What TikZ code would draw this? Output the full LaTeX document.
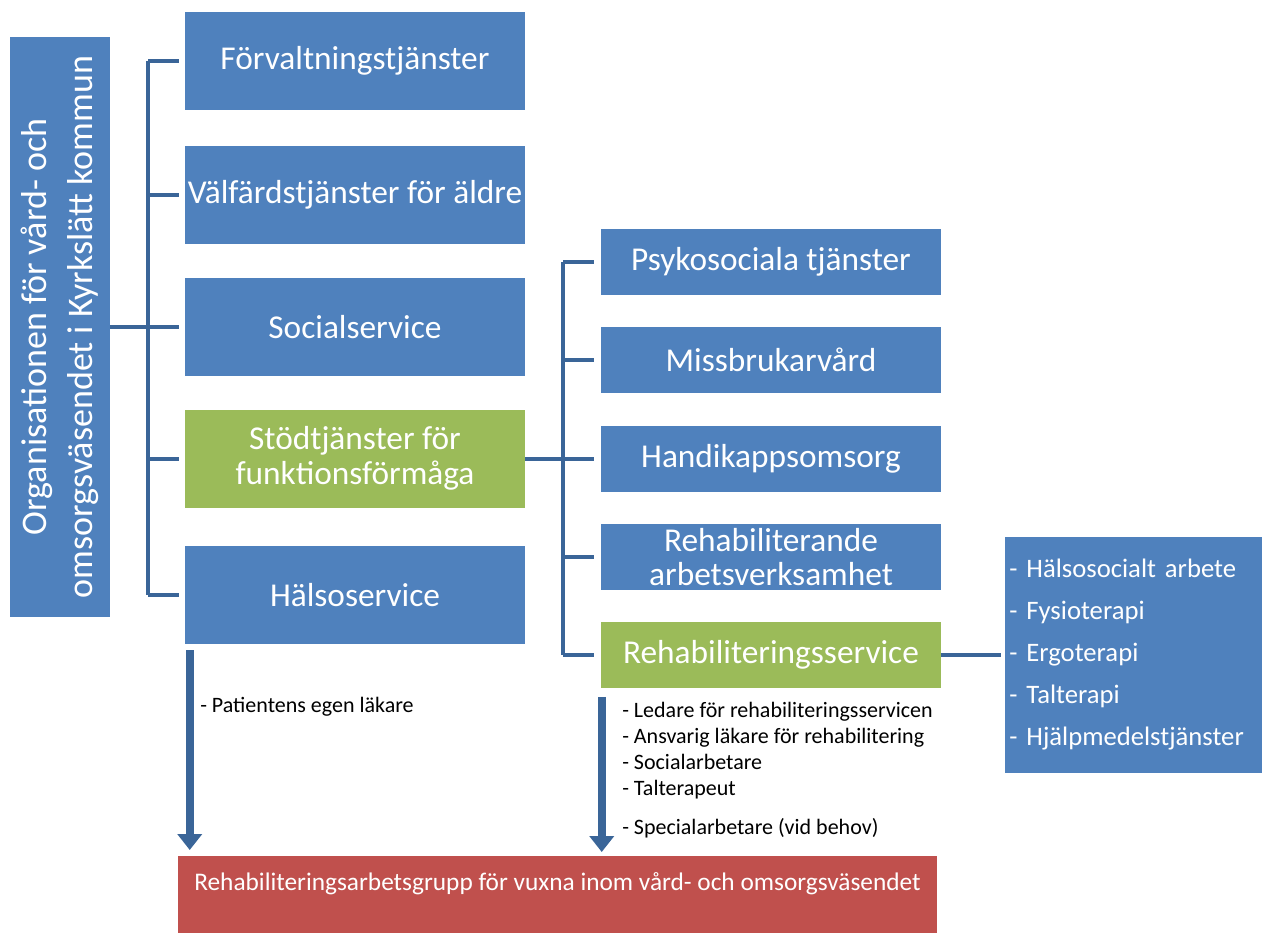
\documentclass[tikz,border=0pt]{standalone}
\usepackage{fontspec}
\setmainfont{Carlito}
\usetikzlibrary{arrows.meta,positioning,calc}
\definecolor{unitblue}{HTML}{4F81BD}
\definecolor{unitgreen}{HTML}{9BBB59}
\definecolor{unitred}{HTML}{C0504D}
\definecolor{linkblue}{HTML}{3A6598}

\begin{document}
\begin{tikzpicture}[x=0.75pt, y=-0.75pt,
    unit/.style={fill=unitblue, text=white, minimum width=255pt, minimum height=73.5pt, align=center, inner sep=1pt, font=\fontsize{25}{26}\selectfont},
    sub/.style={unit, minimum height=49.5pt},
    focus/.style={fill=unitgreen},
    link/.style={draw=linkblue, line width=3pt},
    flow/.style={draw=linkblue, line width=6pt, -{Triangle[width=18pt, length=12pt]}},
    note/.style={inner sep=0pt, align=left, font=\fontsize{16.5}{19.5}\selectfont}
]
\useasboundingbox (0,0) rectangle (1262,933);

\node[unit, rotate=90, minimum width=435pt, minimum height=75pt, font=\fontsize{27}{34}\selectfont] (org) at (60,327) {Organisationen för vård- och\\omsorgsväsendet i Kyrkslätt kommun};

\node[unit] (adm) at (355,61) {Förvaltningstjänster};
\node[unit] (eld) at (355,195) {Välfärdstjänster för äldre};
\node[unit] (soc) at (355,327) {Socialservice};
\node[unit, focus] (fun) at (355,458.5) {Stödtjänster för\\funktionsförmåga};
\node[unit] (hal) at (355,595) {Hälsoservice};

\node[sub] (psy) at (771,262) {Psykosociala tjänster};
\node[sub] (mis) at (771,360) {Missbrukarvård};
\node[sub] (han) at (771,458.5) {Handikappsomsorg};
\node[sub] (arb) at (771,557) {Rehabiliterande\\arbetsverksamhet};
\node[sub, focus] (reh) at (771,655) {Rehabiliteringsservice};

\node[fill=unitblue, text=white, minimum height=177pt, text width=187pt, inner xsep=3pt, align=left, font=\fontsize{20}{31.5}\selectfont] (ther) at (1134,655) {- Hälsosocialt arbete\\- Fysioterapi\\- Ergoterapi\\- Talterapi\\- Hjälpmedelstjänster};

\node[fill=unitred, text=white, anchor=north, minimum width=569pt, inner sep=0pt, text height=26pt, text depth=31.5pt, font=\fontsize{19}{22}\selectfont] (grp) at (557.5,856) {Rehabiliteringsarbetsgrupp för vuxna inom vård- och omsorgsväsendet};

\node[note, anchor=west] (pat) at (200,707) {- Patientens egen läkare};
\node[note, anchor=north west] (team) at (622,702) {- Ledare för rehabiliteringsservicen\\- Ansvarig läkare för rehabilitering\\- Socialarbetare\\- Talterapeut\\[9.75pt]- Specialarbetare (vid behov)};

\coordinate (spa) at (148,0);
\coordinate (spb) at (563,0);

\draw[link] (org.south) -- (org.south -| spa);
\draw[link] (adm.west -| spa) -- (hal.west -| spa);
\foreach \n in {adm,eld,soc,fun,hal}
  \draw[link, shorten >=4pt] (\n.west -| spa) -- (\n.west);

\draw[link] (fun.east) -- (fun.east -| spb);
\draw[link] (psy.west -| spb) -- (reh.west -| spb);
\foreach \n in {psy,mis,han,arb,reh}
  \draw[link, shorten >=5pt] (\n.west -| spb) -- (\n.west);

\draw[link, shorten >=3pt] (reh.east) -- (ther.west);

\draw[flow, shorten <=4.5pt, shorten >=4.5pt] ([xshift=3.75pt]hal.south west) -- ([xshift=3.75pt]hal.south west |- grp.north);
\draw[flow, shorten <=6.5pt, shorten >=3pt] ([xshift=0.75pt]reh.south west) -- ([xshift=0.75pt]reh.south west |- grp.north);
\end{tikzpicture}
\end{document}
